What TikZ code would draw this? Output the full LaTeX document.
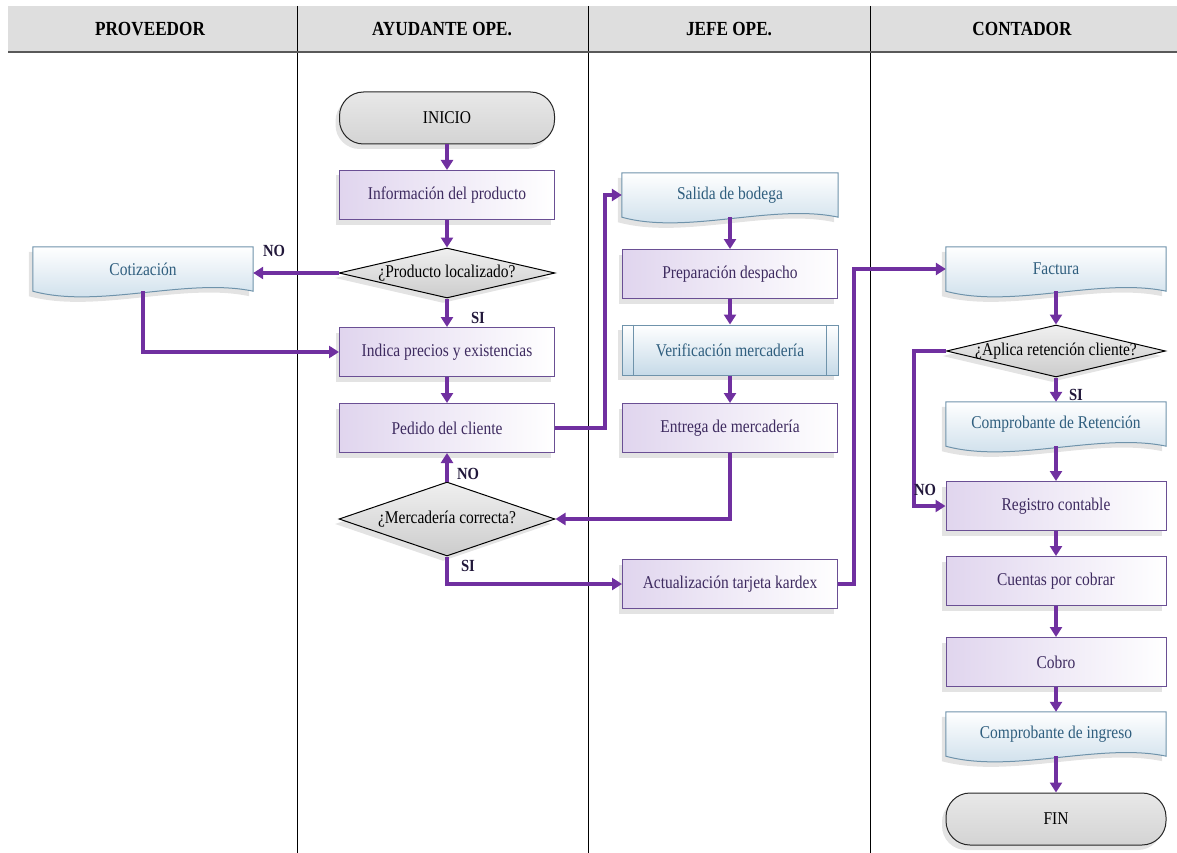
\documentclass[tikz,border=0pt]{standalone}
\usepackage{fontspec}
\setmainfont{Liberation Serif}[FakeStretch=0.86]
\usetikzlibrary{arrows.meta,positioning,calc,shapes.geometric,shadows,backgrounds}

\definecolor{flowpurple}{HTML}{7030A0}
\definecolor{procline}{HTML}{6A4F94}
\definecolor{proctext}{HTML}{3E2B60}
\definecolor{procfill}{HTML}{E0D5EE}
\definecolor{docline}{HTML}{6F93AB}
\definecolor{doctext}{HTML}{2F5E7E}
\definecolor{docfill}{HTML}{C6DAE8}
\definecolor{headgray}{HTML}{DEDEDE}
\definecolor{labeltext}{HTML}{21173A}

\tikzset{
  boxfont/.style={font=\fontsize{18}{20}\selectfont},
  softshadow/.style={drop shadow={shadow xshift=-4pt, shadow yshift=-5pt, opacity=.22}},
  lanehead/.style={font=\fontsize{20}{22}\selectfont\bfseries},
  process/.style={rectangle, draw=procline, line width=1pt, left color=procfill,
    right color=white, text=proctext, minimum width=215pt, minimum height=49pt,
    boxfont, softshadow},
  predef/.style={rectangle, draw=docline, line width=1pt, top color=white,
    bottom color=docfill, text=doctext, minimum width=216pt, minimum height=50pt,
    boxfont, softshadow},
  docnode/.style={rectangle, inner sep=0pt, text=doctext, minimum width=220pt,
    minimum height=44pt, boxfont},
  docpaint/.style={draw=docline, line width=1pt, top color=white,
    bottom color=docfill, softshadow},
  decision/.style={diamond, draw=black, line width=1pt, top color=black!6,
    bottom color=black!20, minimum width=216pt, minimum height=50pt,
    inner sep=0pt, softshadow},
  terminal/.style={rectangle, rounded corners=24pt, draw=black!85, line width=1pt,
    top color=black!9, bottom color=black!17, minimum width=215pt,
    minimum height=52pt, boxfont, softshadow},
  yesno/.style={font=\fontsize{17}{19}\selectfont\bfseries, text=labeltext},
  flow/.style={draw=flowpurple, line width=3.2pt, -{Triangle[length=10pt,width=12pt]}}
}

% document symbol drawn round a docnode
\newcommand{\docshape}[1]{%
  \path[docpaint] (#1.north west) -- (#1.north east) -- (#1.south east)
    .. controls ($(#1.south east)!0.3!(#1.south west)+(0pt,14pt)$)
    and ($(#1.south east)!0.7!(#1.south west)+(0pt,-18pt)$) .. (#1.south west)
    -- cycle;}

\begin{document}
\begin{tikzpicture}[x=1pt,y=-1pt]
  \useasboundingbox (0,0) rectangle (1177,853);
  % lanes
  \fill[headgray] (8,6) rectangle (1177,52);
  \foreach \lx in {297,588,870}
    \draw[line width=1pt] (\lx,6) -- (\lx,853);
  \draw[line width=2.5pt, black!65] (8,52) -- (1177,52);
  \node[lanehead] (hprov) at (150,29) {PROVEEDOR};
  \node[lanehead] (hayud) at (442,29) {AYUDANTE OPE.};
  \node[lanehead] (hjefe) at (729,29) {JEFE OPE.};
  \node[lanehead] (hcont) at (1022,29) {CONTADOR};

  % proveedor
  \node[docnode] (cotiz) at (143,269) {Cotización};

  % ayudante
  \node[terminal] (inicio) at (447,118) {INICIO};
  \node[process] (info) at (447,195) {Información del producto};
  \node[decision, label={[boxfont]center:¿Producto localizado?}] (loc) at (447,273) {};
  \node[process] (indica) at (447,352) {Indica precios y existencias};
  \node[process] (pedido) at (447,428) {Pedido del cliente};
  \node[decision, minimum height=74pt,
    label={[boxfont]center:¿Mercadería correcta?}] (merc) at (447,519) {};

  % jefe
  \node[docnode, minimum width=216pt] (salida) at (730,195) {Salida de bodega};
  \node[process] (prep) at (730,274) {Preparación despacho};
  \node[predef] (verif) at (730,350) {Verificación mercadería};
  \node[process] (entrega) at (730,428) {Entrega de mercadería};
  \node[process] (kardex) at (730,584) {Actualización tarjeta kardex};
  \draw[docline, line width=1pt] ([xshift=12pt]verif.north west) -- ([xshift=12pt]verif.south west);
  \draw[docline, line width=1pt] ([xshift=-12pt]verif.north east) -- ([xshift=-12pt]verif.south east);

  % contador
  \node[docnode] (factura) at (1056,269) {Factura};
  \node[decision, minimum width=219pt, minimum height=52pt,
    label={[boxfont]center:¿Aplica retención cliente?}] (aplica) at (1056,351) {};
  \node[docnode] (retencion) at (1056,424) {Comprobante de Retención};
  \node[process, minimum width=220pt] (registro) at (1056,506) {Registro contable};
  \node[process, minimum width=220pt] (cuentas) at (1056,581) {Cuentas por cobrar};
  \node[process, minimum width=220pt] (cobro) at (1056,662) {Cobro};
  \node[docnode] (ingreso) at (1056,734) {Comprobante de ingreso};
  \node[terminal, minimum width=220pt] (fin) at (1056,819) {FIN};

  \begin{scope}[on background layer]
    \foreach \d in {cotiz,salida,factura,retencion,ingreso}
      \docshape{\d};
  \end{scope}

  % connectors
  \draw[flow] (inicio) -- (info);
  \draw[flow] (info) -- (loc);
  \draw[flow] (loc.west) -- (loc.west -| cotiz.east);
  \draw[flow] (loc) -- (indica);
  \draw[flow] (cotiz.south) |- (indica.west);
  \draw[flow] (indica) -- (pedido);
  \draw[flow] (pedido.east) -- ++(50pt,0pt) |- (salida.west);
  \draw[flow] (salida) -- (prep);
  \draw[flow] (prep) -- (verif);
  \draw[flow] (verif) -- (entrega);
  \draw[flow] (entrega.south) |- (merc.east);
  \draw[flow] (merc.north) -- (pedido.south);
  \draw[flow] (merc.south) |- (kardex.west);
  \draw[flow] (kardex.east) -- ++(16pt,0pt) |- (factura.west);
  \draw[flow] (factura) -- (aplica);
  \draw[flow] (aplica) -- (retencion);
  \draw[flow] (aplica.west) -- ++(-32pt,0pt) |- (registro.west);
  \draw[flow] (retencion) -- (registro);
  \draw[flow] (registro) -- (cuentas);
  \draw[flow] (cuentas) -- (cobro);
  \draw[flow] (cobro) -- (ingreso);
  \draw[flow] (ingreso) -- (fin);

  % answers
  \node[yesno] (noloc) at (274,251) {NO};
  \node[yesno] (siloc) at (478,318) {SI};
  \node[yesno] (nomerc) at (468,474) {NO};
  \node[yesno] (simerc) at (468,566) {SI};
  \node[yesno] (siapl) at (1076,395) {SI};
  \node[yesno] (noapl) at (925,490) {NO};
\end{tikzpicture}
\end{document}
